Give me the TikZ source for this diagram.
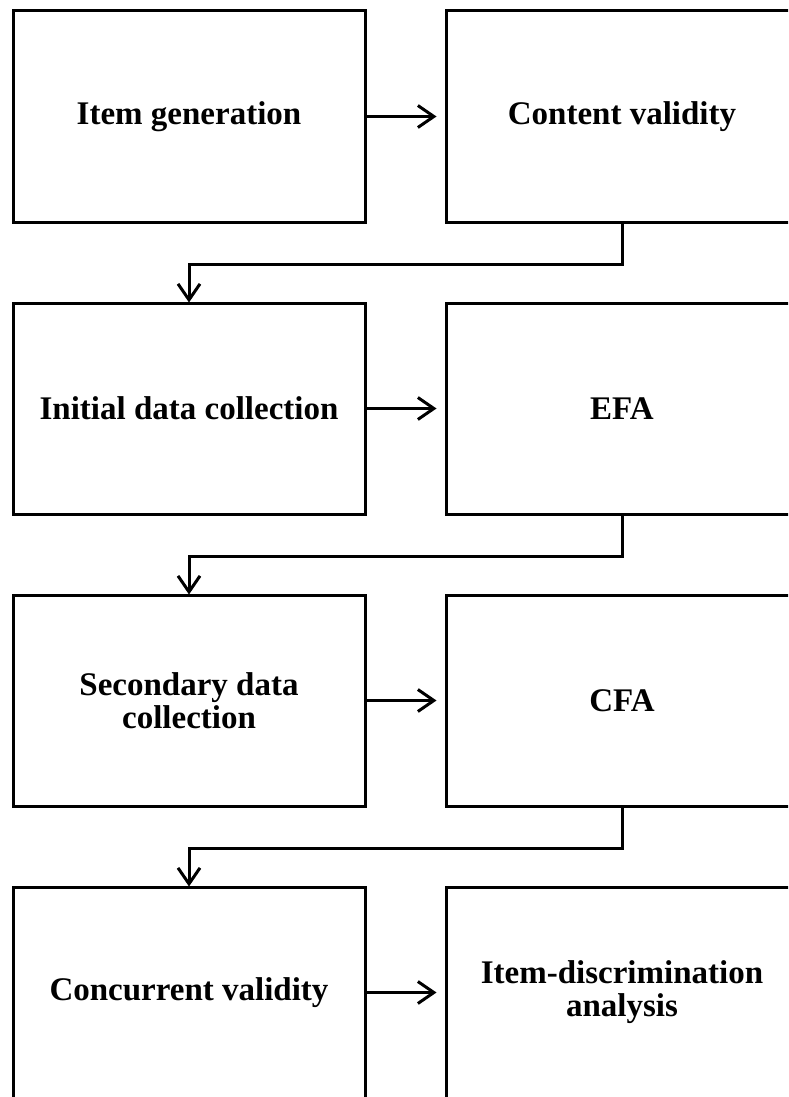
\documentclass[tikz,border=0pt]{standalone}
\usepackage{fontspec}
\setmainfont{Liberation Serif}
\usetikzlibrary{arrows.meta}
\begin{document}
\begin{tikzpicture}[x=1pt,y=-1pt,
  stepbox/.style={draw=black,line width=3pt,minimum width=352pt,minimum height=211pt,inner sep=0pt,align=center,
    font=\fontsize{33}{33}\selectfont\bfseries},
  conn/.style={line width=3pt,-{Straight Barb[length=16pt,width=22pt,line width=3pt]}}]
\useasboundingbox (0,0) rectangle (788,1097);
\clip (0,0) rectangle (788,1097);
\node[stepbox] (a1) at (189,116.5) {Item generation};
\node[stepbox] (b1) at (622,116.5) {Content validity};
\node[stepbox] (a2) at (189,408.5) {Initial data collection};
\node[stepbox] (b2) at (622,408.5) {EFA};
\node[stepbox] (a3) at (189,700.5) {Secondary data\\collection};
\node[stepbox] (b3) at (622,700.5) {CFA};
\node[stepbox] (a4) at (189,992.5) {Concurrent validity};
\node[stepbox] (b4) at (622,992.5) {Item-discrimination\\analysis};
\foreach \r in {1,2,3,4}{
  \draw[conn] (a\r.east) -- ([xshift=-8pt]b\r.west);
}
\foreach \r/\s in {1/2,2/3,3/4}{
  \draw[conn] (b\r.south) -- ++(0,41) -| ([yshift=-1pt]a\s.north);
}
\end{tikzpicture}
\end{document}
